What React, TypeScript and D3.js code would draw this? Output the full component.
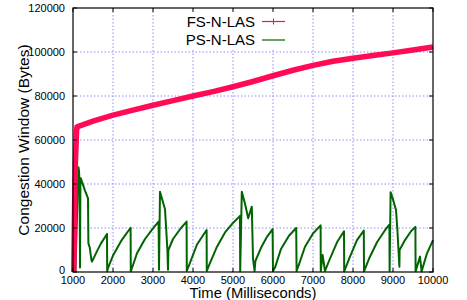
import React from 'react';
import * as d3 from 'd3';

// tick values
const xTicks = [1000, 2000, 3000, 4000, 5000, 6000, 7000, 8000, 9000, 10000];
const yTicks = [0, 20000, 40000, 60000, 80000, 100000, 120000];

// FS-N-LAS
const fsTime = [1020, 1040, 1060, 1090, 1100, 1500, 2000, 2500, 3000, 3500, 4000, 4500, 5000, 5500, 6000, 6500, 7000, 7500, 8000, 8500, 9000, 9500, 10000];
const fsCwnd = [0, 30000, 50000, 64000, 66000, 68600, 71300, 73600, 75800, 77900, 80000, 82000, 84200, 86600, 89200, 91700, 93900, 95800, 97200, 98400, 99600, 100900, 102300];

// PS-N-LAS
const psTime = [
  1060, 1135, 1150, 1165, 1175, 1185, 1195, 1300, 1375, 1385, 1420, 1460, 1475,
  1600, 1700, 1850, 1855,
  1870, 2000, 2200, 2440, 2445,
  2460, 2600, 2800, 3000, 3140, 3150, 3175, 3300, 3330, 3360, 3375, 3385,
  3500, 3700, 3840, 3845,
  3900, 4100, 4340, 4345,
  4400, 4600, 4800, 5000, 5175, 5180, 5220, 5300, 5380, 5470, 5500, 5540,
  5560, 5700, 5850, 5990, 6000,
  6050, 6200, 6400, 6580, 6590,
  6650, 6800, 7000, 7190, 7195, 7240, 7300,
  7400, 7600, 7775, 7780,
  7925, 8100, 8270, 8275,
  8400, 8600, 8800, 8910, 8915, 8940, 9000, 9075, 9110, 9160, 9165,
  9300, 9450, 9560, 9565, 9675, 9715,
  9850, 10000,
];
const psCwnd = [
  0, 47600, 46000, 40000, 2000, 40000, 42600, 37000, 33500, 13000, 11000, 5500, 4700,
  9500, 13000, 17300, 300,
  1500, 7500, 14000, 20100, 300,
  1000, 8500, 15000, 19800, 22900, 1000, 36500, 28500, 19500, 10000, 1000, 10000,
  15000, 20000, 22900, 500,
  3000, 12500, 19100, 500,
  3000, 11500, 18000, 22300, 25500, 300, 36500, 31000, 24400, 29700, 6000, 500,
  5000, 11000, 16000, 19500, 500,
  2000, 10500, 16500, 20000, 500,
  3500, 11500, 17500, 21200, 500, 7700, 500,
  5000, 13500, 18500, 300,
  7000, 14500, 18800, 300,
  6000, 13500, 19000, 21500, 500, 36300, 33000, 28200, 19100, 2400, 10000,
  14500, 18500, 20500, 300, 7000, 300,
  8500, 14500,
];

const W = 467;
const H = 300;
const margin = {left: 73, right: 34, top: 8, bottom: 28};
const font = '"Liberation Sans", Arial, sans-serif';
const red = '#ff0a55';
const green = '#006400';
const gridColor = '#8c8cff';

export default function App() {
  const x = d3.scaleLinear().domain([1000, 10000]).range([margin.left, W - margin.right]);
  const y = d3.scaleLinear().domain([0, 120000]).range([H - margin.bottom, margin.top]);

  const fsPath = d3.line<number>()
    .x((_, i) => x(fsTime[i]))
    .y((d) => y(d))(fsCwnd) || '';
  const psPath = d3.line<number>()
    .x((_, i) => x(psTime[i]))
    .y((d) => y(d))(psCwnd) || '';

  const x0 = margin.left, x1 = W - margin.right;
  const y0 = H - margin.bottom, y1 = margin.top;
  const cx = (x0 + x1) / 2, cy = (y0 + y1) / 2;

  return (
    <svg width={W} height={H} style={{position: 'absolute', left: 0, top: 0, background: '#fff'}}>
      {/* grid */}
      <g stroke={gridColor} strokeWidth={1} strokeDasharray="1.5,2">
        {xTicks.slice(1, -1).map((t) => (
          <line key={'gx' + t} x1={x(t)} x2={x(t)} y1={y0} y2={y1} />
        ))}
        {yTicks.slice(1, -1).map((t) => (
          <line key={'gy' + t} x1={x0} x2={x1} y1={y(t)} y2={y(t)} />
        ))}
      </g>

      {/* key box, hides grid behind the legend */}
      <rect x={176} y={y1 + 1} width={114} height={41} fill="#fff" />

      {/* data */}
      <path d={psPath} fill="none" stroke={green} strokeWidth={2} strokeLinejoin="round" />
      <path d={fsPath} fill="none" stroke={red} strokeWidth={5.5} strokeLinejoin="round" />

      {/* border + ticks */}
      <rect x={x0} y={y1} width={x1 - x0} height={y0 - y1} fill="none" stroke="#000" strokeWidth={1.2} />
      <g stroke="#000" strokeWidth={1}>
        {xTicks.map((t) => (
          <g key={'tx' + t}>
            <line x1={x(t)} x2={x(t)} y1={y0} y2={y0 - 4} />
            <line x1={x(t)} x2={x(t)} y1={y1} y2={y1 + 4} />
          </g>
        ))}
        {yTicks.map((t) => (
          <g key={'ty' + t}>
            <line x1={x0} x2={x0 + 4} y1={y(t)} y2={y(t)} />
            <line x1={x1} x2={x1 - 4} y1={y(t)} y2={y(t)} />
          </g>
        ))}
      </g>

      {/* tick labels */}
      <g fontFamily={font} fontSize={11} fill="#000">
        {xTicks.map((t) => (
          <text key={'lx' + t} x={x(t)} y={284} textAnchor="middle">{t}</text>
        ))}
        {yTicks.map((t) => (
          <text key={'ly' + t} x={65} y={t === 0 ? y(t) + 2 : y(t) + 4} textAnchor="end">{t}</text>
        ))}
      </g>

      {/* axis titles */}
      <text x={cx} y={298} textAnchor="middle" fontFamily={font} fontSize={14.8}>Time (Milliseconds)</text>
      <text transform={`translate(29, ${cy}) rotate(-90)`} textAnchor="middle" fontFamily={font} fontSize={15.5}>
        Congestion Window (Bytes)
      </text>

      {/* legend */}
      <g fontFamily={font} fontSize={15}>
        <text x={255} y={26.5} textAnchor="end">FS-N-LAS</text>
        <line x1={262} x2={285} y1={21.5} y2={21.5} stroke={red} strokeWidth={1.2} />
        <path d="M273.5,18.5v6M270.5,21.5h6" stroke={red} strokeWidth={1} />
        <text x={255} y={45} textAnchor="end">PS-N-LAS</text>
        <line x1={262} x2={285} y1={40} y2={40} stroke={green} strokeWidth={1.2} />
      </g>
    </svg>
  );
}
